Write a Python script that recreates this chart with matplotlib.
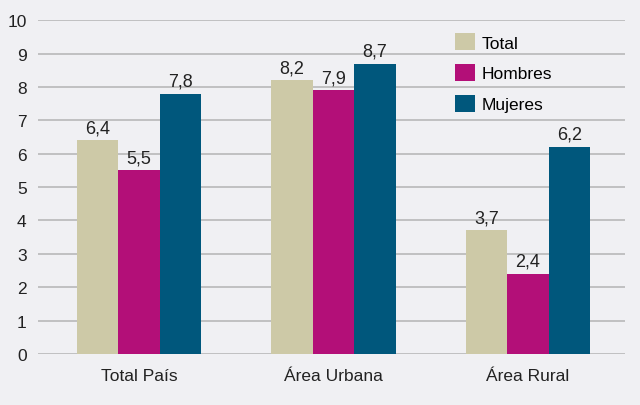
import matplotlib
matplotlib.use("Agg")
import matplotlib.pyplot as plt
import numpy as np

categories = ["Total País", "Área Urbana", "Área Rural"]
series_names = ["Total", "Hombres", "Mujeres"]
total = [6.4, 8.2, 3.7]
hombres = [5.5, 7.9, 2.4]
mujeres = [7.8, 8.7, 6.2]
colors = ["#cdc9a7", "#b30f78", "#00577c"]

plt.rcParams['font.family'] = ['Liberation Sans', 'DejaVu Sans']

fig = plt.figure(figsize=(6.4, 4.06), dpi=100, facecolor="#f0f0f3")
ax = fig.add_axes([0.059, 0.1256, 0.918, 0.8224])
ax.set_facecolor("#f0f0f3")

x = np.arange(len(categories))
w = 0.213
for i, (vals, name) in enumerate(zip([total, hombres, mujeres], series_names)):
    bars = ax.bar(x + (i - 1) * w, vals, width=w, color=colors[i], label=name, zorder=3)
    for b, v in zip(bars, vals):
        ax.text(b.get_x() + b.get_width() / 2, v + 0.12, f"{v:.1f}".replace(".", ","),
                ha="center", va="bottom", fontsize=13, color="#222222")

ax.set_xlim(-0.52, 2.5)
ax.set_ylim(0, 10)
ax.set_yticks(range(0, 11))
ax.yaxis.grid(True, color="#bdbdbd", linewidth=1.3, zorder=0)
ax.set_axisbelow(True)
for s in ax.spines.values():
    s.set_visible(False)
ax.tick_params(axis="both", length=0, labelsize=12.5, colors="#222222")
ax.tick_params(axis="y", pad=8)
ax.tick_params(axis="x", pad=10)
ax.set_xticks(x)
ax.set_xticklabels(categories)

leg = ax.legend(loc="upper left", bbox_to_anchor=(0.71, 0.96), frameon=False,
                fontsize=12.5, handlelength=1.15, handleheight=1.1, labelspacing=0.78,
                handletextpad=0.4, borderpad=0, borderaxespad=0)
fig.savefig("out.png", dpi=100, facecolor=fig.get_facecolor())
